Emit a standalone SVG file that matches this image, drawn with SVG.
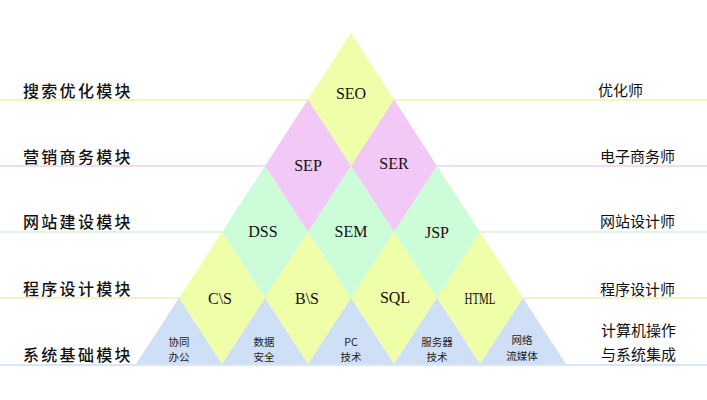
<svg xmlns="http://www.w3.org/2000/svg" width="707" height="400" viewBox="0 0 707 400">
<style>
.y{fill:#effea9}
.p{fill:#f2c8f6}
.g{fill:#ccfdd8}
.b{fill:#cfdff5}
.lbl{font-family:"Noto Sans CJK SC","Noto Sans",sans-serif;font-size:16px;letter-spacing:2.3px;fill:#111;font-weight:500}
.rl{font-family:"Noto Sans CJK SC","Noto Sans",sans-serif;font-size:15px;fill:#111}
.t{font-family:"Liberation Serif","DejaVu Serif",serif;font-size:16px;fill:#111;text-anchor:middle}
.s{font-family:"Noto Sans CJK SC","Noto Sans",sans-serif;font-size:10.5px;fill:#222;text-anchor:middle}
</style>
<rect width="707" height="400" fill="#ffffff"/>
<g id="connectors" stroke-width="2">
<line x1="0" y1="100" x2="707" y2="100" stroke="#eef6c4"/>
<line x1="0" y1="166" x2="707" y2="166" stroke="#f1dcf1"/>
<line x1="0" y1="232" x2="707" y2="232" stroke="#e1f5e3"/>
<line x1="0" y1="298" x2="707" y2="298" stroke="#eff6c2"/>
<line x1="0" y1="365" x2="707" y2="365" stroke="#d8e6f5"/>
</g>
<g id="n-seo"><polygon class="y" points="351,33 394,99.5 351,166 308,99.5"/><text class="t" x="351" y="99">SEO</text></g>
<g id="n-sep"><polygon class="p" points="308,99.5 351,166 308,232 265,166"/><text class="t" x="308" y="171">SEP</text></g>
<g id="n-ser"><polygon class="p" points="394,99.5 437,166 394,232 351,166"/><text class="t" x="394" y="169">SER</text></g>
<g id="n-dss"><polygon class="g" points="265,166 308,232 265,298 222,232"/><text class="t" x="263" y="237">DSS</text></g>
<g id="n-sem"><polygon class="g" points="351,166 394,232 351,298 308,232"/><text class="t" x="351" y="237">SEM</text></g>
<g id="n-jsp"><polygon class="g" points="437,166 480,232 437,298 394,232"/><text class="t" x="437" y="238">JSP</text></g>
<g id="n-cs"><polygon class="y" points="222,232 265,298 222,364 179,298"/><text class="t" x="220" y="304">C\S</text></g>
<g id="n-bs"><polygon class="y" points="308,232 351,298 308,364 265,298"/><text class="t" x="307" y="304">B\S</text></g>
<g id="n-sql"><polygon class="y" points="394,232 437,298 394,364 351,298"/><text class="t" x="395" y="303">SQL</text></g>
<g id="n-html"><polygon class="y" points="480,232 523,298 480,364 437,298"/><text class="t" x="480" y="304" textLength="31" lengthAdjust="spacingAndGlyphs">HTML</text></g>
<g id="n-b1"><polygon class="b" points="179,298 222,364 136,364"/><text class="s"><tspan x="179" y="345.5">协同</tspan><tspan x="179" y="361">办公</tspan></text></g>
<g id="n-b2"><polygon class="b" points="265,298 308,364 222,364"/><text class="s"><tspan x="264" y="345.5">数据</tspan><tspan x="264" y="361">安全</tspan></text></g>
<g id="n-b3"><polygon class="b" points="351,298 394,364 308,364"/><text class="s"><tspan x="351" y="345.5">PC</tspan><tspan x="351" y="361">技术</tspan></text></g>
<g id="n-b4"><polygon class="b" points="437,298 480,364 394,364"/><text class="s"><tspan x="437" y="345.5">服务器</tspan><tspan x="437" y="361">技术</tspan></text></g>
<g id="n-b5"><polygon class="b" points="523,298 566,364 480,364"/><text class="s"><tspan x="522" y="344">网络</tspan><tspan x="522" y="359.5">流媒体</tspan></text></g>
<g id="left-labels">
<text class="lbl" x="23" y="97">搜索优化模块</text>
<text class="lbl" x="23" y="163">营销商务模块</text>
<text class="lbl" x="23" y="228">网站建设模块</text>
<text class="lbl" x="23" y="295">程序设计模块</text>
<text class="lbl" x="23" y="361">系统基础模块</text>
</g>
<g id="right-labels">
<text class="rl" x="598" y="96">优化师</text>
<text class="rl" x="600" y="162">电子商务师</text>
<text class="rl" x="600" y="227">网站设计师</text>
<text class="rl" x="600" y="295">程序设计师</text>
<text class="rl"><tspan x="601" y="336">计算机操作</tspan><tspan x="601" y="360">与系统集成</tspan></text>
</g>
</svg>
